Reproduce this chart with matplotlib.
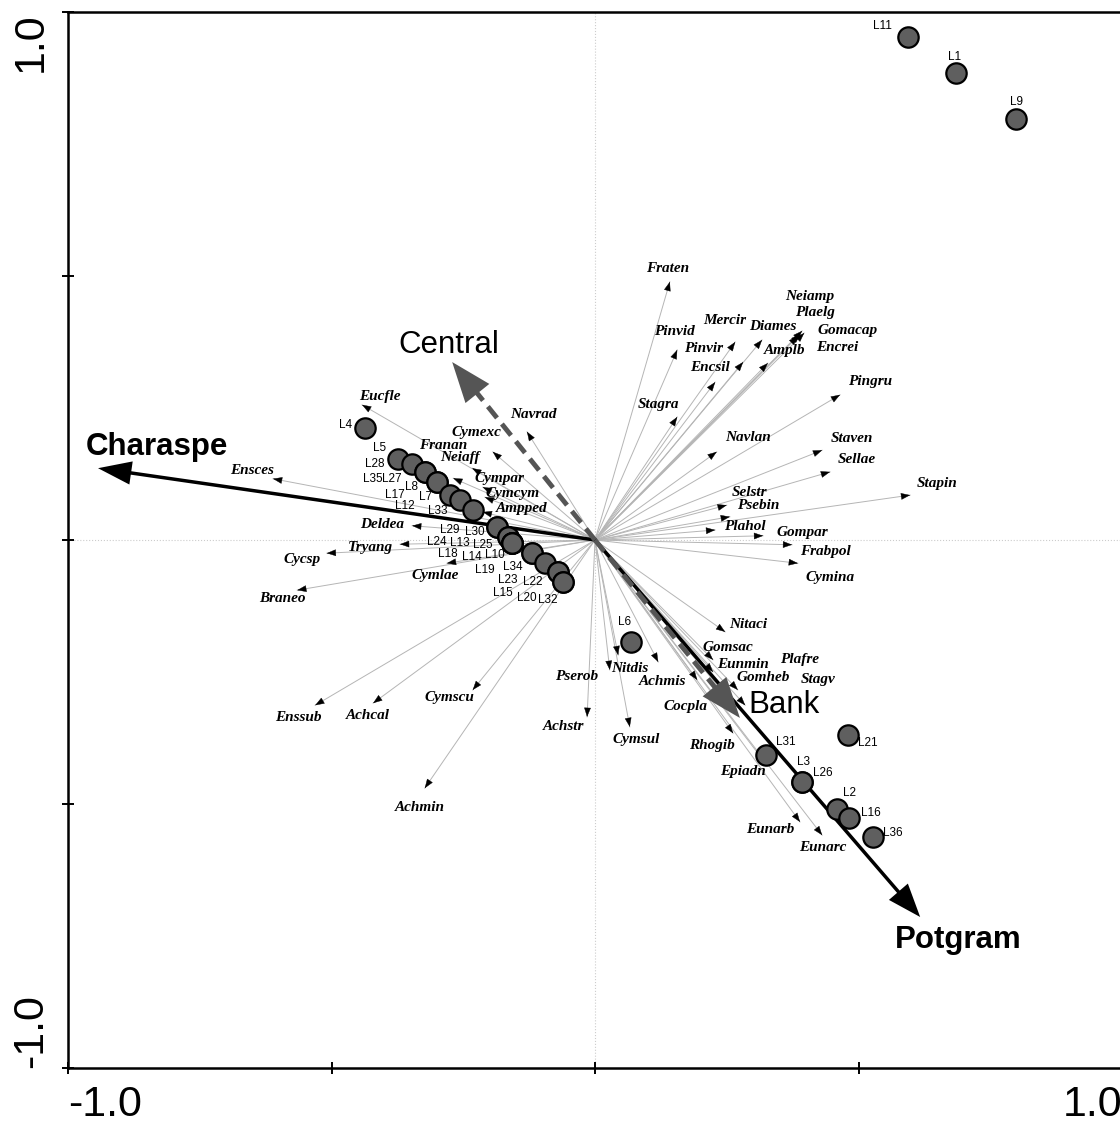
import matplotlib
matplotlib.use('Agg')
import matplotlib.pyplot as plt
import numpy as np

# ---- site scores ----
site_names = ['L11', 'L1', 'L9', 'L4', 'L6', 'L21', 'L31', 'L3', 'L26', 'L2', 'L16', 'L36',
              'L5', 'L28', 'L35', 'L27', 'L8', 'L17', 'L7', 'L12', 'L33', 'L29', 'L30',
              'L24', 'L13', 'L25', 'L10', 'L18', 'L14', 'L34', 'L19', 'L23', 'L22',
              'L15', 'L20', 'L32']
site_x = [0.594, 0.685, 0.799, -0.436, 0.068, 0.480, 0.324, 0.393, 0.393, 0.459, 0.482, 0.528,
          -0.374, -0.347, -0.323, -0.323, -0.300, -0.300, -0.275, -0.256, -0.232, -0.186, -0.186,
          -0.165, -0.165, -0.157, -0.157, -0.157, -0.157, -0.120, -0.120, -0.095, -0.070,
          -0.070, -0.061, -0.061]
site_y = [0.953, 0.884, 0.797, 0.212, -0.193, -0.369, -0.407, -0.458, -0.458, -0.509, -0.527, -0.563,
          0.153, 0.144, 0.129, 0.129, 0.110, 0.110, 0.085, 0.076, 0.057, 0.025, 0.025,
          0.006, 0.006, -0.006, -0.006, -0.006, -0.006, -0.025, -0.025, -0.044, -0.061,
          -0.061, -0.080, -0.080]

# ---- species scores ----
sp_names = ['Fraten', 'Pinvid', 'Pinvir', 'Mercir', 'Diames', 'Neiamp', 'Plaelg', 'Gomacap',
            'Encrei', 'Encsil', 'Amplb', 'Stagra', 'Pingru', 'Navlan', 'Staven', 'Sellae',
            'Stapin', 'Selstr', 'Psebin', 'Plahol', 'Gompar', 'Frabpol', 'Cymina', 'Navrad',
            'Eucfle', 'Cymexc', 'Franan', 'Neiaff', 'Cympar', 'Cymcym', 'Ampped', 'Deldea',
            'Tryang', 'Cymlae', 'Ensces', 'Cycsp', 'Braneo', 'Enssub', 'Achcal', 'Cymscu',
            'Achmin', 'Pserob', 'Achstr', 'Nitdis', 'Cymsul', 'Achmis', 'Nitaci', 'Gomsac',
            'Eunmin', 'Cocpla', 'Plafre', 'Gomheb', 'Stagv', 'Rhogib', 'Epiadn', 'Eunarb',
            'Eunarc']
sp_x = [0.142, 0.156, 0.281, 0.266, 0.317, 0.393, 0.397, 0.389,
        0.385, 0.228, 0.328, 0.156, 0.465, 0.231, 0.431, 0.446,
        0.598, 0.250, 0.256, 0.228, 0.319, 0.374, 0.385, -0.129,
        -0.442, -0.194, -0.233, -0.269, -0.213, -0.209, -0.213, -0.347,
        -0.370, -0.281, -0.611, -0.509, -0.565, -0.531, -0.421, -0.232,
        -0.323, 0.028, -0.015, 0.044, 0.066, 0.120, 0.247, 0.224,
        0.224, 0.194, 0.271, 0.256, 0.285, 0.262, 0.326, 0.389,
        0.431]
sp_y = [0.489, 0.360, 0.337, 0.375, 0.379, 0.396, 0.392, 0.390,
        0.386, 0.299, 0.335, 0.233, 0.275, 0.167, 0.170, 0.129,
        0.085, 0.066, 0.044, 0.019, 0.008, -0.009, -0.044, 0.205,
        0.256, 0.167, 0.136, 0.117, 0.100, 0.081, 0.053, 0.027,
        -0.008, -0.044, 0.116, -0.025, -0.095, -0.313, -0.309, -0.284,
        -0.470, -0.246, -0.335, -0.218, -0.354, -0.231, -0.174, -0.227,
        -0.250, -0.265, -0.284, -0.303, -0.313, -0.366, -0.426, -0.534,
        -0.559]

# ---- environmental variables ----
env_names = ['Charaspe', 'Potgram', 'Central', 'Bank']
env_x = [-0.943, 0.617, -0.271, 0.275]
env_y = [0.136, -0.714, 0.337, -0.337]

# label layout (offsets in pixels from the point, y up)
site_off = [(-26, 11), (-1, 16), (0, 17), (-20, 3), (-6, 20), (20, -8), (20, 13), (1, 20), (21, 9),
            (13, 16), (22, 5), (20, 4),
            (-18, 11), (-37, 0), (-52, -7), (-33, -7), (-25, -5), (-42, -13), (-25, -2), (-55, -6),
            (-35, -1), (-47, -3), (-22, -5), (-71, -5), (-48, -6), (-29, -2), (-17, -12), (-64, -11),
            (-40, -14), (-19, -14), (-47, -17), (-37, -17), (-25, -10), (-55, -21), (-36, -16),
            (-15, -18)]
sp_off = [(-2, 13), (-3, 18), (-40, 14), (-10, 22), (11, 13), (8, 34), (11, 21), (48, 4),
          (39, -11), (-5, 15), (17, 13), (-19, 12), (30, 13), (31, 14), (30, 12), (27, 12),
          (27, 12), (23, 13), (28, 11), (30, 3), (39, 3), (33, -7), (32, -14), (6, 17),
          (18, 8), (-16, 19), (-29, 23), (7, 21), (17, 9), (28, 4), (39, 4), (-30, 1),
          (-30, -3), (-12, -12), (-21, 8), (-25, -6), (-15, -8), (-17, -12), (-5, -12), (-23, -8),
          (-5, -19), (-33, -7), (-24, -10), (12, -13), (6, -13), (4, -20), (23, 7), (15, 12),
          (30, 8), (-12, -27), (62, 30), (33, 22), (73, 26), (-21, -12), (-24, -7), (-30, -8),
          (1, -12)]
env_off = [(59, 21), (38, -23), (-3, 17), (44, 13)]
# colour, line style, bold label, head length, head half-width
env_style = [('black', '-', True, 1.2, 0.42), ('black', '-', True, 1.2, 0.45),
             ('#555555', '--', False, 1.45, 0.55), ('#555555', '--', False, 1.45, 0.55)]

serif = 'Liberation Serif'
sans = 'Liberation Sans'

fig = plt.figure(figsize=(11.2, 11.28), dpi=100)
ax = fig.add_axes([68 / 1120, 60 / 1128, 1054 / 1120, 1056 / 1128])
ax.set_xlim(-1, 1)
ax.set_ylim(-1, 1)

ax.axhline(0, color='#cccccc', lw=0.8, ls=':', zorder=0)
ax.axvline(0, color='#cccccc', lw=0.8, ls=':', zorder=0)

# species arrows
for name, x, y, (dx, dy) in zip(sp_names, sp_x, sp_y, sp_off):
    ax.plot([0, x], [0, y], color='#b5b5b5', lw=0.7, zorder=1)
    L = np.hypot(x, y)
    ux, uy = x / L, y / L
    ax.annotate('', xy=(x, y), xytext=(x - 0.012 * ux, y - 0.012 * uy),
                arrowprops=dict(arrowstyle='-|>,head_length=0.6,head_width=0.22',
                                mutation_scale=10, color='black', lw=0.3,
                                shrinkA=0, shrinkB=0), zorder=2)
    ax.annotate(name, xy=(x, y), xytext=(dx, dy), textcoords='offset pixels',
                ha='center', va='center', fontsize=11, family=serif,
                fontweight='bold', style='italic', zorder=6)

# environmental arrows
for name, x, y, (dx, dy), (col, ls, bold, hl, hw) in zip(env_names, env_x, env_y, env_off, env_style):
    L = np.hypot(x, y)
    ux, uy = x / L, y / L
    back = 0.05
    ax.plot([0, x - back * ux], [0, y - back * uy], color=col, ls=ls,
            lw=3.5 if ls == '--' else 2.5, dashes=(3, 1.6) if ls == '--' else (None, None), zorder=3)
    ax.annotate('', xy=(x, y), xytext=(x - back * ux, y - back * uy),
                arrowprops=dict(arrowstyle=f'-|>,head_length={hl},head_width={hw}',
                                mutation_scale=20, color=col, lw=0,
                                shrinkA=0, shrinkB=0), zorder=4)
    ax.annotate(name, xy=(x, y), xytext=(dx, dy), textcoords='offset pixels',
                ha='center', va='center', fontsize=22.5, family=sans,
                fontweight='bold' if bold else 'normal', zorder=7)

# sites
ax.scatter(site_x, site_y, s=215, c='#5f5f5f', edgecolors='black', linewidths=1.6, zorder=5)
for name, x, y, (dx, dy) in zip(site_names, site_x, site_y, site_off):
    ax.annotate(name, xy=(x, y), xytext=(dx, dy), textcoords='offset pixels',
                ha='center', va='center', fontsize=8.5, family=sans, zorder=8)

# axes styling
for s in ['left', 'bottom', 'top']:
    ax.spines[s].set_linewidth(1.8)
ax.spines['right'].set_visible(False)
ticks = [-1, -0.5, 0, 0.5, 1]
ax.set_xticks(ticks)
ax.set_yticks(ticks)
ax.set_xticklabels(['-1.0', '', '', '', '1.0'])
ax.set_yticklabels(['-1.0', '', '', '', '1.0'], rotation=90)
ax.tick_params(direction='inout', length=9, width=1.4, labelsize=31, pad=8)
for lab in ax.get_xticklabels():
    lab.set_family(sans)
for lab in ax.get_yticklabels():
    lab.set_family(sans)
xl = ax.get_xticklabels()
xl[0].set_ha('left')
xl[-1].set_ha('right')
yl = ax.get_yticklabels()
yl[0].set_va('bottom')
yl[-1].set_va('top')

fig.savefig('out.png', dpi=100)
